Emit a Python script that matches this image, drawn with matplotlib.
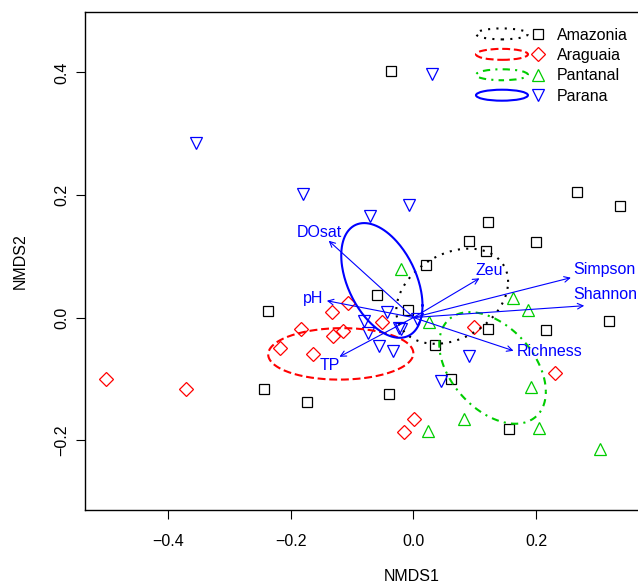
import numpy as np
import matplotlib.pyplot as plt
from matplotlib.patches import Ellipse
from matplotlib.lines import Line2D
from matplotlib.legend_handler import HandlerBase

plt.rcParams['font.family'] = ['Liberation Sans', 'DejaVu Sans']

# NMDS site scores per basin
amaz_x = [-0.036, 0.267, 0.337, 0.122, 0.091, 0.118, 0.199, 0.020, 0.318, 0.121,
          0.215, 0.035, 0.061, 0.156, -0.060, -0.009, -0.236, -0.244, -0.173, -0.040]
amaz_y = [0.402, 0.205, 0.182, 0.156, 0.125, 0.109, 0.123, 0.086, -0.006, -0.019,
          -0.020, -0.045, -0.100, -0.182, 0.036, 0.012, 0.010, -0.117, -0.137, -0.124]

arag_x = [-0.501, -0.370, -0.218, -0.183, -0.163, -0.132, -0.106, -0.131, -0.114,
          -0.052, 0.098, 0.231, 0.001, -0.016]
arag_y = [-0.101, -0.117, -0.050, -0.019, -0.060, 0.009, 0.024, -0.030, -0.022,
          -0.007, -0.015, -0.091, -0.165, -0.186]

pant_x = [-0.021, 0.162, 0.187, 0.026, 0.191, 0.083, 0.024, 0.204, 0.303]
pant_y = [0.080, 0.032, 0.013, -0.007, -0.113, -0.165, -0.185, -0.180, -0.215]

para_x = [0.031, -0.354, -0.179, -0.071, -0.008, -0.043, -0.081, -0.074, -0.056,
          -0.034, -0.023, -0.021, 0.006, 0.091, 0.045]
para_y = [0.397, 0.285, 0.202, 0.166, 0.184, 0.009, -0.005, -0.026, -0.046,
          -0.054, -0.017, -0.019, -0.003, -0.062, -0.103]

# envfit vectors
vec_names = ['DOsat', 'pH', 'TP', 'Zeu', 'Simpson', 'Shannon', 'Richness']
vec_x = [-0.138, -0.141, -0.1205, 0.1075, 0.2563, 0.278, 0.1629]
vec_y = [0.1253, 0.0274, -0.064, 0.064, 0.065, 0.0193, -0.0542]
lab_x = [-0.1539, -0.1638, -0.1357, 0.1233, 0.3109, 0.3122, 0.2213]
lab_y = [0.1384, 0.0313, -0.0775, 0.0775, 0.0787, 0.0379, -0.0558]

groups = ['Amazonia', 'Araguaia', 'Pantanal', 'Parana']
colors = ['black', '#FF0000', '#00CD00', '#0000FF']
markers = ['s', 'D', '^', 'v']
msizes = [7, 7, 8.5, 8.5]
lstyles = [(0, (1, 3)), (0, (3.8, 1.8)), (0, (1, 2.5, 3.5, 2.5)), '-']
xs = [amaz_x, arag_x, pant_x, para_x]
ys = [amaz_y, arag_y, pant_y, para_y]

xticks = [-0.4, -0.2, 0.0, 0.2]
xtick_labels = ['\u22120.4', '\u22120.2', '0.0', '0.2']
yticks = [-0.2, 0.0, 0.2, 0.4]
ytick_labels = ['\u22120.2', '0.0', '0.2', '0.4']


def se_ellipse(x, y, scale=np.sqrt(-2 * np.log(0.05)), n=200):
    # 95% confidence ellipse of the group centroid (standard error)
    x = np.asarray(x)
    y = np.asarray(y)
    cov = np.cov(x, y) / len(x)
    L = np.linalg.cholesky(cov)
    t = np.linspace(0, 2 * np.pi, n)
    pts = scale * (L @ np.vstack([np.cos(t), np.sin(t)]))
    return pts[0] + x.mean(), pts[1] + y.mean()


class GroupKey:
    def __init__(self, color, ls, marker, ms):
        self.color = color
        self.ls = ls
        self.marker = marker
        self.ms = ms


class EllipseMarkerHandler(HandlerBase):
    def create_artists(self, legend, orig_handle, xdescent, ydescent,
                       width, height, fontsize, trans):
        cy = height / 2 - ydescent
        e = Ellipse((18.7 - xdescent, cy), 37.4, 7.9, fill=False,
                    edgecolor=orig_handle.color, ls=orig_handle.ls, lw=1.5,
                    transform=trans)
        m = Line2D([44.4 - xdescent], [cy], marker=orig_handle.marker, ls='none',
                   mfc='none', mec=orig_handle.color, ms=orig_handle.ms, mew=0.9,
                   transform=trans)
        return [e, m]


fig = plt.figure(figsize=(6.38, 5.84), dpi=100)
ax = fig.add_axes([85 / 638, 74 / 584, 654 / 638, 497.7 / 584])

for gx, gy, c, mk, ms in zip(xs, ys, colors, markers, msizes):
    ax.plot(gx, gy, ls='none', marker=mk, ms=ms, mfc='none', mec=c, mew=0.9)

for gx, gy, c, ls in zip(xs, ys, colors, lstyles):
    ex, ey = se_ellipse(gx, gy)
    ax.plot(ex, ey, color=c, ls=ls, lw=1.5)

for name, vx, vy, tx, ty in zip(vec_names, vec_x, vec_y, lab_x, lab_y):
    ax.annotate('', xy=(vx, vy), xytext=(0, 0),
                arrowprops=dict(arrowstyle='->', color='#0000FF', lw=0.8,
                                shrinkA=0, shrinkB=0, mutation_scale=10))
    ax.text(tx, ty, name, color='#0000FF', fontsize=11.5, ha='center', va='center')

ax.set_xlim(-0.5347, 0.530)
ax.set_ylim(-0.314, 0.498)
ax.set_xticks(xticks)
ax.set_xticklabels(xtick_labels)
ax.set_yticks(yticks)
ax.set_yticklabels(ytick_labels, rotation=90, va='center')
ax.tick_params(length=6.5, width=0.8, labelsize=11.5)
ax.tick_params(axis='x', pad=11)
ax.tick_params(axis='y', pad=5)
for s in ax.spines.values():
    s.set_linewidth(1.0)

ax.set_xlabel('NMDS1', fontsize=11.5)
ax.set_ylabel('NMDS2', fontsize=11.5)
ax.xaxis.set_label_coords(0.5, -0.118)
ax.yaxis.set_label_coords(-0.088, 0.5)

handles = [GroupKey(c, ls, mk, ms) for c, ls, mk, ms in zip(colors, lstyles, markers, msizes)]
fig.legend(handles, groups, handler_map={GroupKey: EllipseMarkerHandler()},
           loc='upper left', bbox_to_anchor=(476 / 638, 1 - 27.5 / 584),
           frameon=False, fontsize=11.5, borderpad=0, borderaxespad=0,
           handlelength=4.32, handletextpad=0.73, labelspacing=0.34)

fig.savefig('out.png', dpi=100)
